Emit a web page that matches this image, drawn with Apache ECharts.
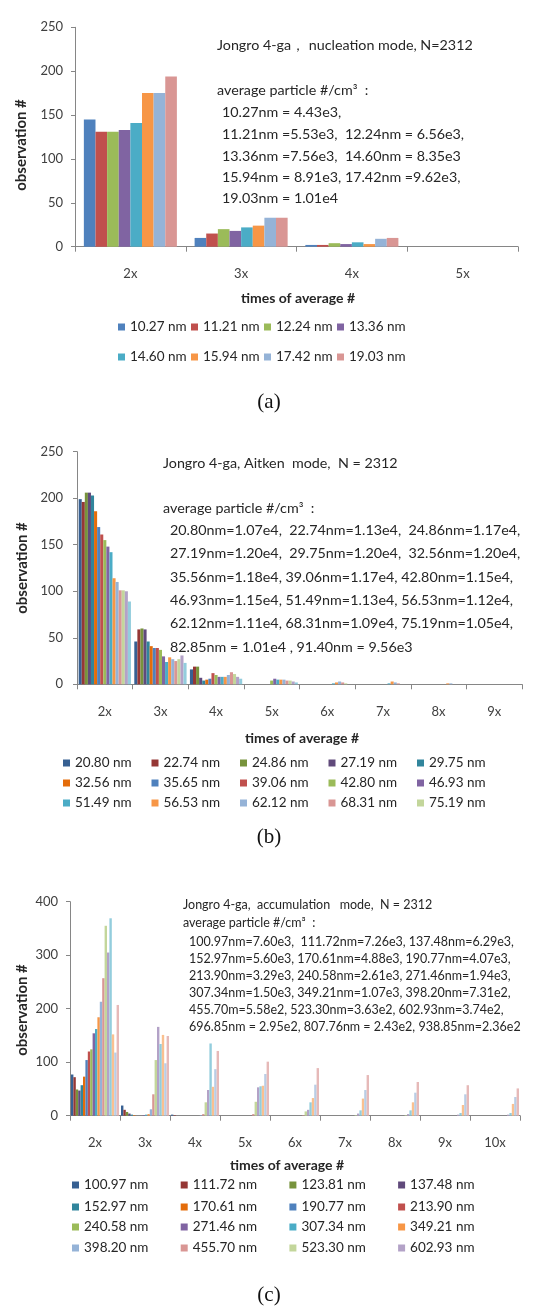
<!DOCTYPE html>
<html>
<head>
<meta charset="utf-8">
<script src="https://cdn.jsdelivr.net/npm/echarts/dist/echarts.min.js"></script>
<style>
  html, body { margin: 0; padding: 0; background: #fff; }
  #chart { width: 544px; height: 1309px; }
</style>
</head>
<body>
<div id="chart"></div>
<script>
// ---------- shared ----------
const timesA = ['2x', '3x', '4x', '5x'];
const timesB = ['2x', '3x', '4x', '5x', '6x', '7x', '8x', '9x'];
const timesC = ['2x', '3x', '4x', '5x', '6x', '7x', '8x', '9x', '10x'];

// ---------- (a) nucleation mode ----------
const sizesA = ['10.27 nm', '11.21 nm', '12.24 nm', '13.36 nm', '14.60 nm', '15.94 nm', '17.42 nm', '19.03 nm'];
const obsA_2x = [145, 131, 131, 133, 141, 175, 175, 194];
const obsA_3x = [10, 15, 20, 18, 22, 24, 33, 33];
const obsA_4x = [2, 2, 4, 3, 5, 3, 9, 10];
const obsA_5x = [0, 0, 0, 0, 0, 0, 0, 0];
const noteA = [
  'Jongro 4-ga\uFF0C nucleation mode, N=2312',
  'average particle #/cm\u00B3  :',
  '10.27nm = 4.43e3,',
  '11.21nm =5.53e3,  12.24nm = 6.56e3,',
  '13.36nm =7.56e3,  14.60nm = 8.35e3',
  '15.94nm = 8.91e3, 17.42nm =9.62e3,',
  '19.03nm = 1.01e4'
];

// ---------- (b) Aitken mode ----------
const sizesB = ['20.80 nm', '22.74 nm', '24.86 nm', '27.19 nm', '29.75 nm', '32.56 nm', '35.65 nm', '39.06 nm',
  '42.80 nm', '46.93 nm', '51.49 nm', '56.53 nm', '62.12 nm', '68.31 nm', '75.19 nm', '82.85 nm', '91.40 nm'];
const obsB_2x = [199, 196, 206, 206, 203, 186, 169, 161, 155, 148, 142, 114, 110, 101, 101, 100, 89];
const obsB_3x = [46, 59, 60, 59, 46, 41, 39, 39, 37, 30, 24, 29, 27, 25, 27, 31, 23];
const obsB_4x = [16, 19, 19, 7, 4, 5, 6, 12, 10, 8, 8, 8, 10, 13, 11, 8, 6];
const obsB_5x = [0, 0, 0, 0, 0, 0, 0, 0, 4, 6, 5, 5, 5, 4, 4, 3, 2];
const obsB_6x = [0, 0, 0, 0, 0, 0, 0, 0, 0, 0, 1, 2, 3, 2, 1, 0, 0];
const obsB_7x = [0, 0, 0, 0, 0, 0, 0, 0, 0, 0, 1, 3, 2, 1, 0, 0, 0];
const obsB_8x = [0, 0, 0, 0, 0, 0, 0, 0, 0, 0, 0, 1, 1, 0, 0, 0, 0];
const obsB_9x = [0, 0, 0, 0, 0, 0, 0, 0, 0, 0, 0, 0, 0, 0, 0, 0, 0];
const noteB = [
  'Jongro 4-ga, Aitken  mode,  N = 2312',
  'average particle #/cm\u00B3  :',
  '20.80nm=1.07e4,  22.74nm=1.13e4,  24.86nm=1.17e4,',
  '27.19nm=1.20e4,  29.75nm=1.20e4,  32.56nm=1.20e4,',
  '35.56nm=1.18e4, 39.06nm=1.17e4, 42.80nm=1.15e4,',
  '46.93nm=1.15e4, 51.49nm=1.13e4, 56.53nm=1.12e4,',
  '62.12nm=1.11e4, 68.31nm=1.09e4, 75.19nm=1.05e4,',
  '82.85nm = 1.01e4 , 91.40nm = 9.56e3'
];

// ---------- (c) accumulation mode ----------
const sizesC = ['100.97 nm', '111.72 nm', '123.81 nm', '137.48 nm', '152.97 nm', '170.61 nm', '190.77 nm',
  '213.90 nm', '240.58 nm', '271.46 nm', '307.34 nm', '349.21 nm', '398.20 nm', '455.70 nm', '523.30 nm',
  '602.93 nm', '696.85 nm', '807.76 nm', '938.85 nm', '> 938.85 nm'];
const obsC_2x = [77, 72, 49, 47, 57, 73, 104, 120, 124, 154, 162, 184, 213, 257, 355, 305, 369, 152, 118, 207];
const obsC_3x = [19, 11, 7, 4, 2, 1, 0, 0, 0, 1, 2, 3, 12, 40, 104, 166, 134, 151, 98, 149];
const obsC_4x = [2, 1, 0, 0, 0, 0, 0, 0, 0, 0, 0, 0, 1, 3, 25, 48, 135, 54, 87, 121];
const obsC_5x = [0, 0, 0, 0, 0, 0, 0, 0, 0, 0, 0, 0, 0, 3, 26, 53, 55, 56, 78, 101];
const obsC_6x = [0, 0, 0, 0, 0, 0, 0, 0, 0, 0, 0, 0, 0, 1, 8, 11, 25, 33, 58, 89];
const obsC_7x = [0, 0, 0, 0, 0, 0, 0, 0, 0, 0, 0, 0, 0, 0, 1, 4, 10, 32, 48, 76];
const obsC_8x = [0, 0, 0, 0, 0, 0, 0, 0, 0, 0, 0, 0, 0, 0, 1, 3, 10, 25, 43, 63];
const obsC_9x = [0, 0, 0, 0, 0, 0, 0, 0, 0, 0, 0, 0, 0, 0, 0, 2, 5, 20, 40, 57];
const obsC_10x = [0, 0, 0, 0, 0, 0, 0, 0, 0, 0, 0, 0, 0, 0, 0, 2, 5, 22, 35, 51];
const noteC = [
  'Jongro 4-ga,  accumulation   mode,  N = 2312',
  'average particle #/cm\u00B3  :',
  '100.97nm=7.60e3,  111.72nm=7.26e3, 137.48nm=6.29e3,',
  '152.97nm=5.60e3, 170.61nm=4.88e3, 190.77nm=4.07e3,',
  '213.90nm=3.29e3, 240.58nm=2.61e3, 271.46nm=1.94e3,',
  '307.34nm=1.50e3, 349.21nm=1.07e3, 398.20nm=7.31e2,',
  '455.70m=5.58e2, 523.30nm=3.63e2, 602.93nm=3.74e2,',
  '696.85nm = 2.95e2, 807.76nm = 2.43e2, 938.85nm=2.36e2'
];

// ---------- palette (office style shades) ----------
const baseCols = ['#4F81BD', '#C0504D', '#9BBB59', '#8064A2', '#4BACC6', '#F79646'];
const darkCols = ['#376092', '#953735', '#77933C', '#604A7B', '#31859C', '#E46C0A'];
const lightCols = ['#95B3D7', '#D99694', '#C3D69B', '#B3A2C7', '#93CDDD', '#FAC090'];
const paleCols = ['#B9CDE5', '#E6B9B8'];
const colorsA = baseCols.concat(['#95B3D7', '#D99694']);
const colorsB = darkCols.concat(baseCols, lightCols.slice(0, 5));
const colorsC = darkCols.concat(baseCols, lightCols, paleCols);

const FONT = 'Lato, "Open Sans", sans-serif';
const TXT = '#262626';
const AXIS = '#868686';

function barSeries(names, colors, groups, idx, gap) {
  return names.map((n, i) => ({
    type: 'bar', name: n, xAxisIndex: idx, yAxisIndex: idx,
    data: groups.map(g => g[i]),
    itemStyle: { color: colors[i] },
    barGap: '0%', barCategoryGap: gap,
    emphasis: { disabled: true }, animation: false
  }));
}

function xAx(idx, cats) {
  return {
    type: 'category', gridIndex: idx, data: cats, boundaryGap: true,
    axisLine: { show: true, lineStyle: { color: AXIS, width: 1 } },
    axisTick: { show: true, length: 5, lineStyle: { color: AXIS } },
    axisLabel: { margin: 21, fontSize: 13, color: '#404040', fontFamily: FONT, interval: 0 },
    splitLine: { show: false }
  };
}
function yAx(idx, max, step, margin) {
  return {
    type: 'value', gridIndex: idx, min: 0, max: max, interval: step,
    axisLine: { show: true, lineStyle: { color: AXIS, width: 1 } },
    axisTick: { show: true, length: 4, lineStyle: { color: AXIS } },
    axisLabel: { margin: margin, fontSize: 13, color: '#404040', fontFamily: FONT },
    splitLine: { show: false }
  };
}
function legendRow(names, left, top, textW) {
  return {
    data: names, left: left, top: top, orient: 'horizontal', padding: 0,
    itemWidth: 7, itemHeight: 7, itemGap: 4, icon: 'rect', selectedMode: false,
    textStyle: { fontSize: 13.5, color: TXT, fontFamily: FONT, width: textW, lineHeight: 14 }
  };
}
function txt(text, x, y, size, o) {
  o = o || {};
  const font = (o.bold ? 'bold ' : '') + size + 'px ' + (o.family || FONT);
  return {
    type: 'text', x: x, y: y, rotation: o.rot || 0, silent: true,
    style: {
      text: text, fill: o.fill || TXT, font: font,
      textAlign: o.align || 'left', align: o.align || 'left',
      textVerticalAlign: 'middle', verticalAlign: 'middle'
    }
  };
}
function noteBlock(lines, x0, x1, ys, size) {
  return lines.map((l, i) => txt(l, i < 2 ? x0 : x1, ys[i], size));
}

const groupsA = [obsA_2x, obsA_3x, obsA_4x, obsA_5x];
const groupsB = [obsB_2x, obsB_3x, obsB_4x, obsB_5x, obsB_6x, obsB_7x, obsB_8x, obsB_9x];
const groupsC = [obsC_2x, obsC_3x, obsC_4x, obsC_5x, obsC_6x, obsC_7x, obsC_8x, obsC_9x, obsC_10x];

const graphics = []
  .concat(noteBlock(noteA, 217, 222, [45, 90, 112, 134, 156, 177, 198], 14.3))
  .concat(noteBlock(noteB, 163, 170, [463, 508, 530, 553, 577, 600, 623, 647], 14.3))
  .concat(noteBlock(noteC, 183, 189, [905, 923, 942, 959, 976, 993, 1010, 1027], 12.5))
  .concat([
    txt('observation #', 21, 145, 15, { bold: true, rot: Math.PI / 2, align: 'center' }),
    txt('observation #', 22, 568, 15, { bold: true, rot: Math.PI / 2, align: 'center' }),
    txt('observation #', 22, 1010, 15, { bold: true, rot: Math.PI / 2, align: 'center' }),
    txt('times of average #', 298, 298, 14, { bold: true, align: 'center' }),
    txt('times of average #', 302, 738, 14, { bold: true, align: 'center' }),
    txt('times of average #', 287, 1165, 14, { bold: true, align: 'center' }),
    txt('(a)', 269, 402, 21, { align: 'center', family: '"Liberation Serif", "DejaVu Serif", serif', fill: '#111' }),
    txt('(b)', 269, 837, 21, { align: 'center', family: '"Liberation Serif", "DejaVu Serif", serif', fill: '#111' }),
    txt('(c)', 269, 1295, 21, { align: 'center', family: '"Liberation Serif", "DejaVu Serif", serif', fill: '#111' })
  ]);

const option = {
  backgroundColor: '#ffffff',
  animation: false,
  textStyle: { fontFamily: FONT },
  grid: [
    { left: 75, top: 27.3, width: 443, height: 219.4, outerBoundsMode: 'none' },
    { left: 77, top: 451.7, width: 445, height: 232.6, outerBoundsMode: 'none' },
    { left: 70, top: 901.7, width: 450, height: 214, outerBoundsMode: 'none' }
  ],
  xAxis: [xAx(0, timesA), xAx(1, timesB), xAx(2, timesC)],
  yAxis: [yAx(0, 250, 50, 12), yAx(1, 250, 50, 14), yAx(2, 400, 100, 12)],
  legend: [
    legendRow(sizesA.slice(0, 4), 118, 320, 57),
    legendRow(sizesA.slice(4, 8), 118, 350, 57),
    legendRow(sizesB.slice(0, 5), 63, 756, 72.5),
    legendRow(sizesB.slice(5, 10), 63, 776, 72.5),
    legendRow(sizesB.slice(10, 15), 63, 796, 72.5),
    legendRow(sizesC.slice(0, 4), 72, 1178, 92.7),
    legendRow(sizesC.slice(4, 8), 72, 1200, 92.7),
    legendRow(sizesC.slice(8, 12), 72, 1220, 92.7),
    legendRow(sizesC.slice(12, 16), 72, 1241, 92.7)
  ],
  series: []
    .concat(barSeries(sizesA, colorsA, groupsA, 0, '16%'))
    .concat(barSeries(sizesB, colorsB, groupsB, 1, '6%'))
    .concat(barSeries(sizesC, colorsC, groupsC, 2, '4%')),
  graphic: { elements: graphics }
};

const chart = echarts.init(document.getElementById('chart'), null, { renderer: 'canvas', width: 544, height: 1309 });
chart.setOption(option);
</script>
</body>
</html>
